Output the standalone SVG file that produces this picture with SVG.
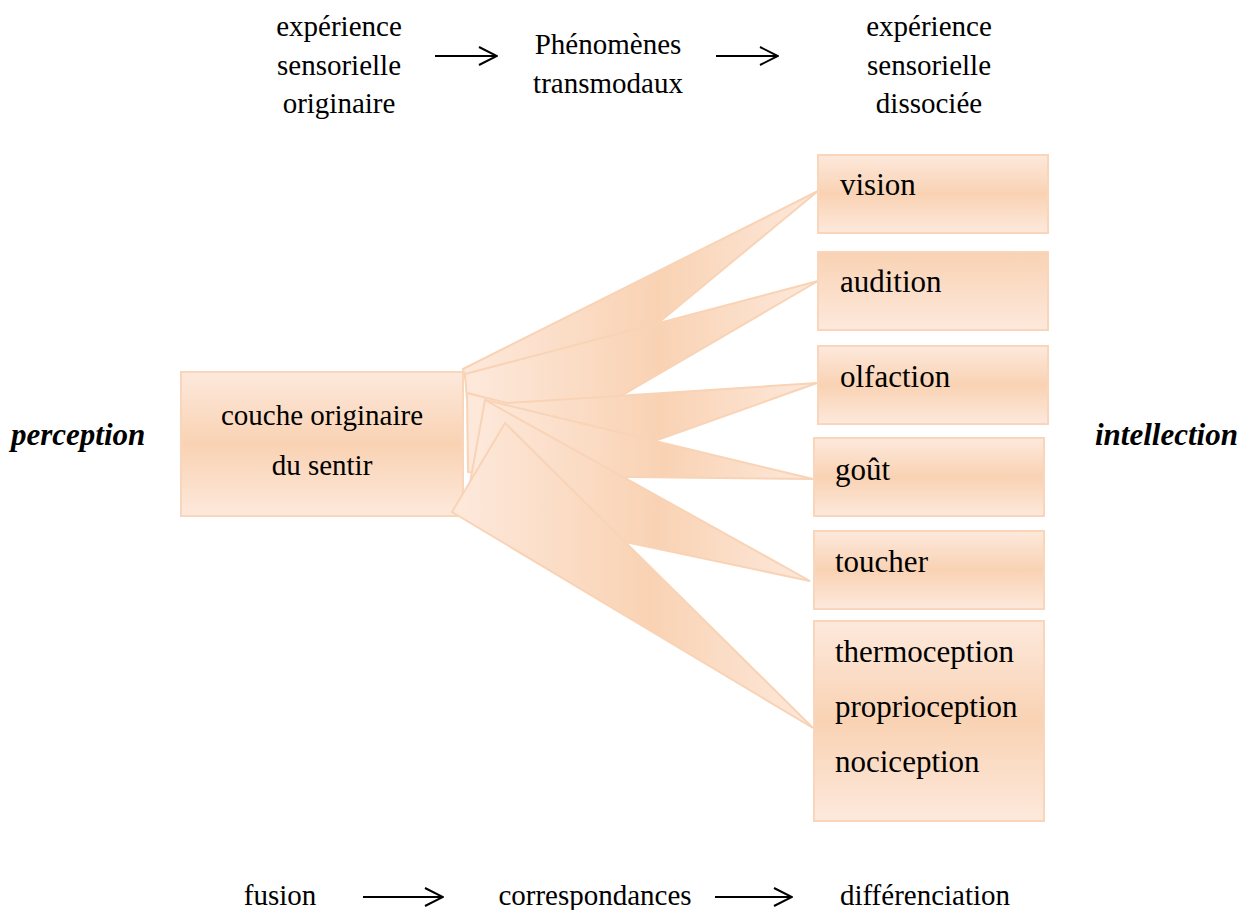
<svg xmlns="http://www.w3.org/2000/svg" width="1256" height="910" viewBox="0 0 1256 910" font-family="'Liberation Serif', 'DejaVu Serif', serif">
<defs>
<linearGradient id="gv" x1="0" y1="0" x2="0" y2="1">
<stop offset="0" stop-color="#fde9dc"/><stop offset="0.5" stop-color="#f9d2b3"/><stop offset="1" stop-color="#fde9dc"/>
</linearGradient>
<linearGradient id="gd" x1="0" y1="0" x2="0" y2="1">
<stop offset="0" stop-color="#f9d2b3"/><stop offset="1" stop-color="#fde9dc"/>
</linearGradient>
<linearGradient id="gw" x1="0" y1="0" x2="1" y2="0">
<stop offset="0" stop-color="#fde9dc"/><stop offset="0.55" stop-color="#f9d2b3"/><stop offset="1" stop-color="#fde9dc"/>
</linearGradient>
<marker id="ah" viewBox="0 0 20 20" refX="19" refY="10" markerWidth="20" markerHeight="20" markerUnits="userSpaceOnUse" orient="auto">
<path d="M1,1 L19,10 L1,19" fill="none" stroke="#000" stroke-width="2"/>
</marker>
<style>
text{font-family:"Liberation Serif","DejaVu Serif",serif;fill:#000}
.t{font-size:29px}
.b{font-size:31px}
.bi{font-size:31px;font-weight:bold;font-style:italic}
.box{stroke:#f9d6bb;stroke-width:2}
.w{fill:url(#gw);stroke:#f9d3b5;stroke-width:2;stroke-linejoin:miter}
.arr{stroke:#000;stroke-width:2;fill:none;marker-end:url(#ah)}
</style>
</defs>

<g id="top-labels">
<text class="t" text-anchor="middle" x="339" y="36">expérience</text>
<text class="t" text-anchor="middle" x="339" y="75">sensorielle</text>
<text class="t" text-anchor="middle" x="339" y="113">originaire</text>
<text class="t" text-anchor="middle" x="608" y="54">Phénomènes</text>
<text class="t" text-anchor="middle" x="608" y="93">transmodaux</text>
<text class="t" text-anchor="middle" x="929" y="36">expérience</text>
<text class="t" text-anchor="middle" x="929" y="75">sensorielle</text>
<text class="t" text-anchor="middle" x="929" y="113">dissociée</text>
</g>

<g id="bottom-labels">
<text class="t" text-anchor="middle" x="280" y="905">fusion</text>
<text class="t" text-anchor="middle" x="595" y="905">correspondances</text>
<text class="t" text-anchor="middle" x="925" y="905">différenciation</text>
</g>

<g id="side-labels">
<text class="bi" x="11" y="445">perception</text>
<text class="bi" x="1095" y="445">intellection</text>
</g>

<g id="couche">
<rect class="box" x="181" y="372" width="282" height="144" fill="url(#gv)"/>
<text class="t" text-anchor="middle" x="322" y="425">couche originaire</text>
<text class="t" text-anchor="middle" x="322" y="475">du sentir</text>
</g>

<g id="connectors">
<polygon class="w" points="463,369 818,191 600,371 470,398"/>
<polygon class="w" points="465,374 818,281 540,443 467,400"/>
<polygon class="w" points="467,393 507,403 817,383 540,482 468,472"/>
<polygon class="w" points="485,400 813,479 540,476 480,470"/>
<polygon class="w" points="485,400 810,581 540,524 470,483"/>
<polygon class="w" points="452,512 505,423 813,728"/>
<line class="arr" x1="435" y1="56" x2="497" y2="56"/>
<line class="arr" x1="716" y1="56" x2="778" y2="56"/>
<line class="arr" x1="363" y1="897" x2="443" y2="897"/>
<line class="arr" x1="715" y1="897" x2="792" y2="897"/>
</g>

<g id="vision">
<rect class="box" x="818" y="155" width="230" height="78" fill="url(#gv)"/>
<text class="b" x="840" y="195">vision</text>
</g>
<g id="audition">
<rect class="box" x="818" y="252" width="230" height="78" fill="url(#gd)"/>
<text class="b" x="840" y="292">audition</text>
</g>
<g id="olfaction">
<rect class="box" x="818" y="346" width="230" height="78" fill="url(#gv)"/>
<text class="b" x="840" y="387">olfaction</text>
</g>
<g id="gout">
<rect class="box" x="814" y="438" width="230" height="78" fill="url(#gv)"/>
<text class="b" x="835" y="480">goût</text>
</g>
<g id="toucher">
<rect class="box" x="814" y="531" width="230" height="78" fill="url(#gv)"/>
<text class="b" x="835" y="572">toucher</text>
</g>
<g id="thermoception">
<rect class="box" x="814" y="621" width="230" height="200" fill="url(#gv)"/>
<text class="b" x="835" y="662">thermoception</text>
<text class="b" x="835" y="717">proprioception</text>
<text class="b" x="835" y="772">nociception</text>
</g>
</svg>
